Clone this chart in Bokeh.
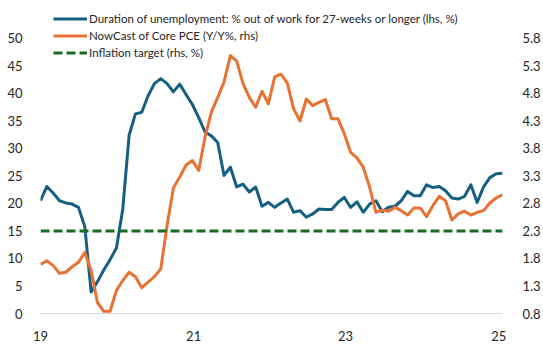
from bokeh.plotting import figure
from bokeh.models import Range1d, LinearAxis, FixedTicker, Legend, LegendItem, PrintfTickFormatter
from bokeh.embed import file_html
from bokeh.resources import INLINE

# Monthly observations (first point labelled "19", last just after "25")
duration_lhs = [20.5, 23.1, 21.9, 20.5, 20.1, 19.9, 19.3, 15.8, 3.9, 5.8,
                7.9, 9.8, 11.9, 19.0, 32.4, 36.3, 36.6, 39.6, 41.8, 42.7,
                41.8, 40.3, 41.7, 39.8, 38.0, 35.6, 33.0, 32.3, 31.1, 25.1,
                26.6, 23.0, 23.5, 22.1, 23.0, 19.5, 20.2, 19.3, 20.1, 20.8,
                18.4, 18.7, 17.5, 18.1, 19.0, 18.9, 18.9, 20.2, 21.1, 19.3,
                20.3, 18.4, 19.9, 20.5, 18.5, 19.3, 19.5, 20.5, 22.2, 21.4,
                21.4, 23.4, 22.9, 23.1, 22.3, 21.0, 20.8, 21.3, 23.4, 20.2,
                23.0, 24.7, 25.4, 25.5]
core_pce_rhs = [1.69, 1.76, 1.67, 1.53, 1.55, 1.65, 1.73, 1.91, 1.58, 1.00,
                0.84, 0.84, 1.22, 1.40, 1.55, 1.47, 1.27, 1.37, 1.47, 1.61,
                2.40, 3.08, 3.28, 3.50, 3.58, 3.40, 4.01, 4.46, 4.73, 5.01,
                5.49, 5.39, 4.98, 4.73, 4.55, 4.84, 4.61, 5.10, 5.15, 4.99,
                4.52, 4.30, 4.70, 4.58, 4.64, 4.69, 4.34, 4.34, 4.07, 3.73,
                3.63, 3.46, 3.10, 2.64, 2.68, 2.66, 2.73, 2.67, 2.59, 2.72,
                2.72, 2.56, 2.76, 2.93, 2.85, 2.50, 2.61, 2.66, 2.59, 2.64,
                2.67, 2.81, 2.90, 2.96]
inflation_target_rhs = 2.3
month_idx = list(range(len(duration_lhs)))

x_tick_pos = [0, 24.2, 48.2, 72.4]
x_tick_labels = ["19", "21", "23", "25"]
lhs_ticks = [0, 5, 10, 15, 20, 25, 30, 35, 40, 45, 50]
rhs_ticks = [0.8, 1.3, 1.8, 2.3, 2.8, 3.3, 3.8, 4.3, 4.8, 5.3, 5.8]

BLUE = "#156082"
ORANGE = "#E97132"
GREEN = "#196B24"
TXT = "#262626"
FONT = "Lato"

lhs_top = 55.09
p = figure(width=543, height=354, output_backend="svg", toolbar_location=None,
           x_range=Range1d(0, len(duration_lhs) - 1), y_range=Range1d(0, lhs_top),
           min_border_left=40, min_border_right=40, min_border_top=10, min_border_bottom=41)
p.extra_y_ranges = {"rhs": Range1d(0.8, 0.8 + lhs_top / 10)}
p.outline_line_color = None
p.xgrid.visible = False
p.ygrid.visible = False
p.background_fill_color = "white"
p.border_fill_color = "white"

# left axis
ya = p.yaxis[0]
ya.ticker = FixedTicker(ticks=lhs_ticks)
ya.axis_line_color = None
ya.major_tick_line_color = None
ya.minor_tick_line_color = None
ya.major_label_text_font_size = "13px"
ya.major_label_text_font = FONT
ya.major_label_text_color = TXT
ya.major_label_standoff = 12

# right axis
ra = LinearAxis(y_range_name="rhs", ticker=FixedTicker(ticks=rhs_ticks),
                formatter=PrintfTickFormatter(format="%.1f"))
ra.axis_line_color = None
ra.major_tick_line_color = None
ra.minor_tick_line_color = None
ra.major_label_text_font_size = "13px"
ra.major_label_text_font = FONT
ra.major_label_text_color = TXT
ra.major_label_standoff = 14
p.add_layout(ra, "right")

# bottom axis
xa = p.xaxis[0]
xa.ticker = FixedTicker(ticks=x_tick_pos)
xa.major_label_overrides = {t: l for t, l in zip(x_tick_pos, x_tick_labels)}
xa.axis_line_color = "#d9d9d9"
xa.axis_line_width = 1
xa.major_tick_line_color = None
xa.minor_tick_line_color = None
xa.major_label_text_font_size = "13px"
xa.major_label_text_font = FONT
xa.major_label_text_color = TXT
xa.major_label_standoff = 11

r1 = p.line(month_idx, duration_lhs, line_color=BLUE, line_width=3, line_join="round")
r2 = p.line(month_idx, core_pce_rhs, line_color=ORANGE, line_width=3, line_join="round",
            y_range_name="rhs")
r3 = p.line([month_idx[0], month_idx[-1]], [inflation_target_rhs, inflation_target_rhs],
            line_color=GREEN, line_width=3, line_dash="9 4", y_range_name="rhs")

legend = Legend(items=[
    LegendItem(label="Duration of unemployment: % out of work for 27-weeks or longer (lhs, %)", renderers=[r1]),
    LegendItem(label="NowCast of Core PCE (Y/Y%, rhs)", renderers=[r2]),
    LegendItem(label="Inflation target (rhs, %)", renderers=[r3]),
], location=(13, 252))
legend.background_fill_alpha = 0
legend.border_line_color = None
legend.padding = 0
legend.margin = 0
legend.spacing = 0
legend.label_height = 17
legend.glyph_height = 17
legend.glyph_width = 34
legend.label_standoff = 2
legend.label_text_font_size = "11.5px"
legend.label_text_font = FONT
legend.label_text_color = TXT
p.add_layout(legend)

open("out.html", "w").write(file_html(p, INLINE))
